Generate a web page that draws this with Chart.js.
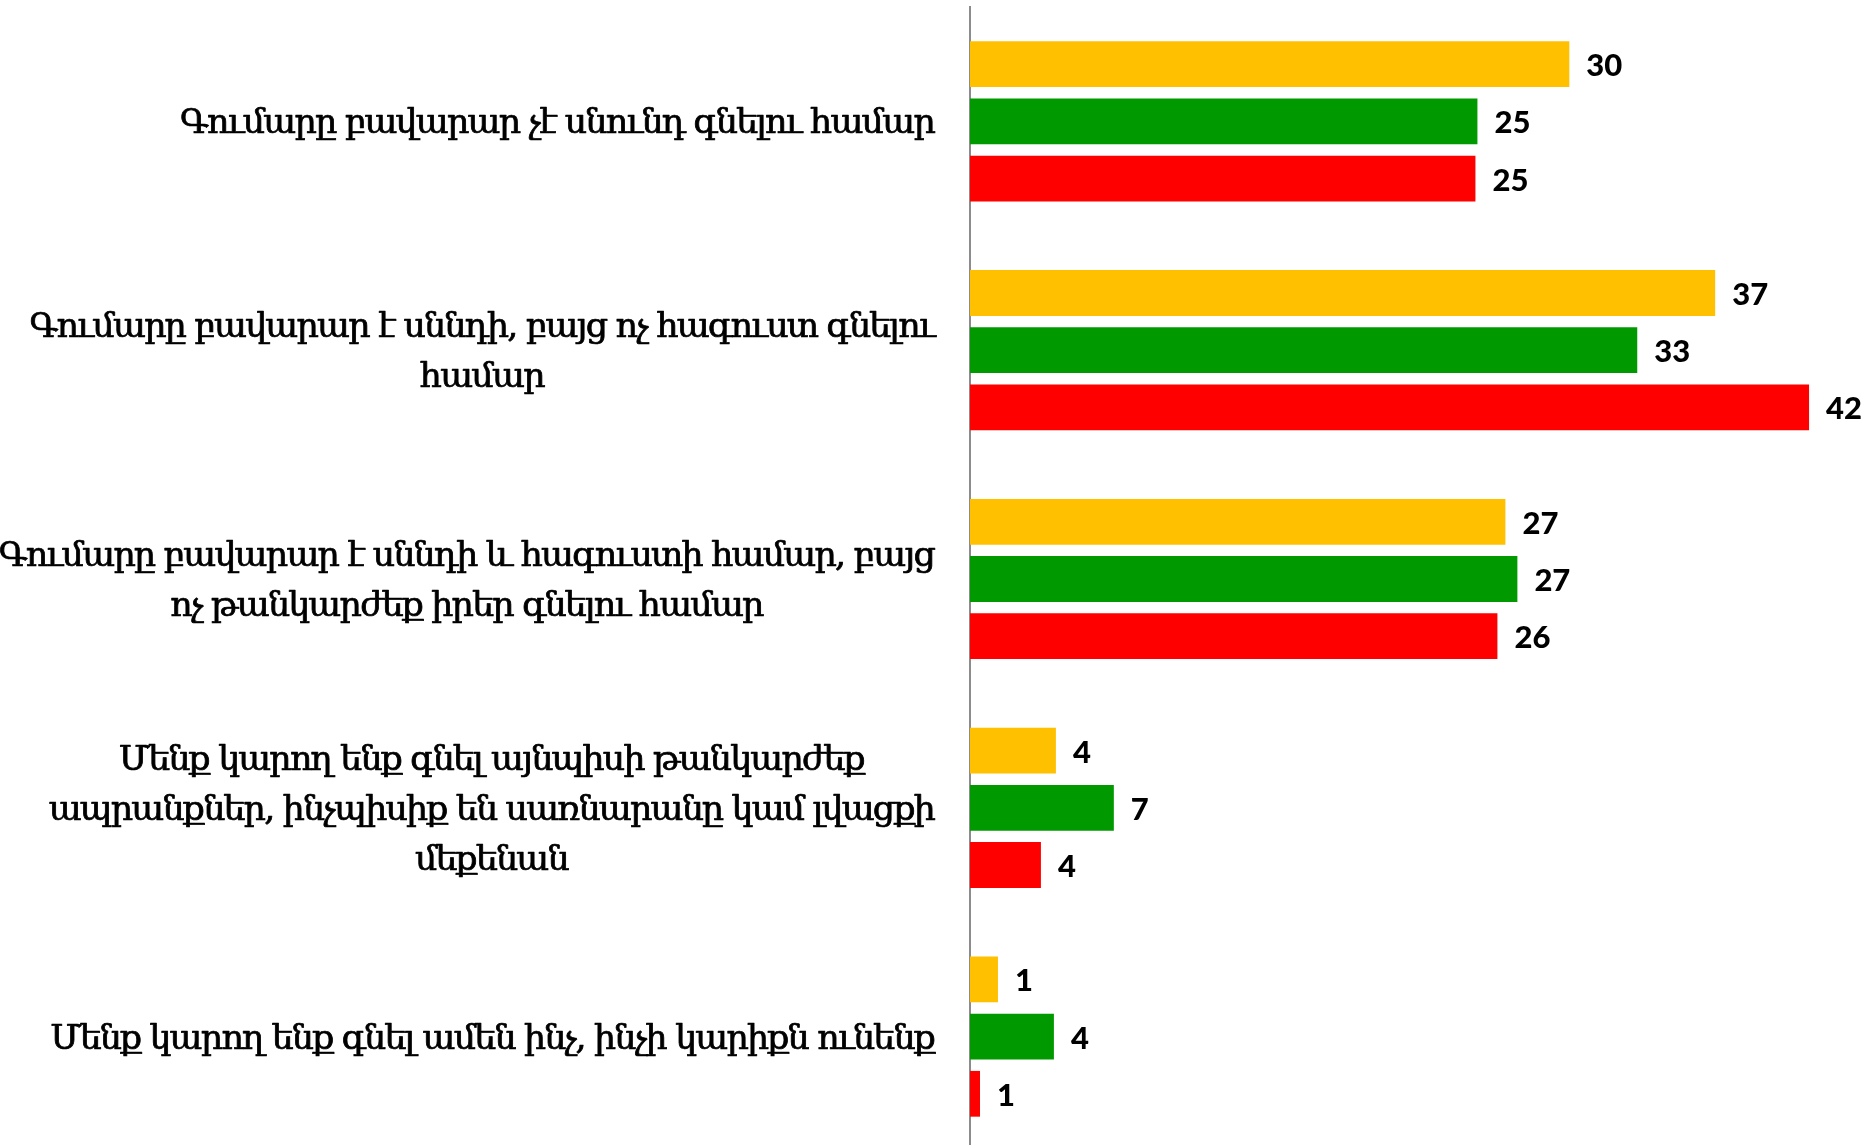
<!DOCTYPE html>
<html>
<head>
<meta charset="utf-8">
<script src="https://cdn.jsdelivr.net/npm/chart.js@4/dist/chart.umd.min.js"></script>
<style>
html,body{margin:0;padding:0;background:#ffffff;overflow:hidden}
#wrap{position:relative;width:1864px;height:1152px}
</style>
</head>
<body>
<div id="wrap"><canvas id="c"></canvas></div>
<script>
// ---- data ----
const categories = [
  ["Գումարը բավարար չէ սնունդ գնելու համար"],
  ["Գումարը բավարար է սննդի, բայց ոչ հագուստ գնելու", "համար"],
  ["Գումարը բավարար է սննդի և հագուստի համար, բայց", "ոչ թանկարժեք իրեր գնելու համար"],
  ["Մենք կարող ենք գնել այնպիսի թանկարժեք", "ապրանքներ, ինչպիսիք են սառնարանը կամ լվացքի", "մեքենան"],
  ["Մենք կարող ենք գնել ամեն ինչ, ինչի կարիքն ունենք"]
];
const seriesNames = ["Շարք 1", "Շարք 2", "Շարք 3"];
const yellowValues = [30.0, 37.3, 26.8, 4.3, 1.4];
const greenValues  = [25.4, 33.4, 27.4, 7.2, 4.2];
const redValues    = [25.3, 42.0, 26.4, 3.55, 0.5];
const xMin = 0;
const xMax = 44.75;

// ---- styles ----
const COLORS = ["#FFC000", "#009900", "#FF0000"];
const CAT_FONT = '33px "DejaVu Serif Condensed", "DejaVu Serif", serif';
const VAL_FONT = '900 31px Lato, "Open Sans", sans-serif';

const valueLabels = {
  id: 'valueLabels',
  afterDatasetsDraw(chart) {
    const ctx = chart.ctx;
    ctx.save();
    ctx.font = VAL_FONT;
    ctx.fillStyle = '#000000';
    ctx.textAlign = 'left';
    ctx.textBaseline = 'alphabetic';
    chart.data.datasets.forEach((ds, di) => {
      const meta = chart.getDatasetMeta(di);
      meta.data.forEach((bar, i) => {
        const v = ds.data[i];
        ctx.fillText(String(Math.round(v)), bar.x + 17, bar.y + 12);
      });
    });
    ctx.restore();
  }
};

const categoryLabels = {
  id: 'categoryLabels',
  afterDraw(chart) {
    const ctx = chart.ctx;
    const y = chart.scales.y;
    ctx.save();
    ctx.font = CAT_FONT;
    try { ctx.letterSpacing = '-1.5px'; } catch (e) {}
    // horizontal squeeze so the first label matches the reference width
    const w0 = ctx.measureText(categories[0][0]).width;
    const sx = 754 / w0;
    ctx.fillStyle = '#000000';
    ctx.strokeStyle = '#000000';
    ctx.lineWidth = 0.7;
    ctx.lineJoin = 'round';
    ctx.textAlign = 'center';
    ctx.textBaseline = 'alphabetic';
    const rightEdge = 934;
    const lineH = 50;
    categories.forEach((lines, i) => {
      const cy = y.getPixelForValue(i);
      const widths = lines.map(l => ctx.measureText(l).width * sx);
      const blockW = Math.max(...widths);
      const cx = rightEdge - blockW / 2;
      const n = lines.length;
      lines.forEach((l, k) => {
        const ly = cy + (k - (n - 1) / 2) * lineH + 12;
        ctx.save();
        ctx.translate(cx, ly);
        ctx.scale(sx, 1);
        ctx.fillText(l, 0, 0);
        ctx.strokeText(l, 0, 0);
        ctx.restore();
      });
    });
    ctx.restore();
  }
};

new Chart(document.getElementById('c'), {
  type: 'bar',
  data: {
    labels: categories,
    datasets: [
      { label: seriesNames[0], data: yellowValues, backgroundColor: COLORS[0] },
      { label: seriesNames[1], data: greenValues,  backgroundColor: COLORS[1] },
      { label: seriesNames[2], data: redValues,    backgroundColor: COLORS[2] }
    ]
  },
  options: {
    indexAxis: 'y',
    responsive: true,
    maintainAspectRatio: false,
    animation: false,
    datasets: { bar: { barPercentage: 0.8, categoryPercentage: 0.75, borderWidth: 0 } },
    layout: { padding: { top: 7, bottom: 1, left: 0, right: 0 } },
    plugins: { legend: { display: false }, tooltip: { enabled: false } },
    scales: {
      x: { display: false, min: xMin, max: xMax },
      y: {
        display: true,
        grid: { display: true, drawOnChartArea: false, drawTicks: false },
        border: { display: true, color: '#8C8C8C', width: 2 },
        ticks: { display: false },
        afterFit(scale) { scale.width = 970; }
      }
    }
  },
  plugins: [valueLabels, categoryLabels]
});
</script>
</body>
</html>
